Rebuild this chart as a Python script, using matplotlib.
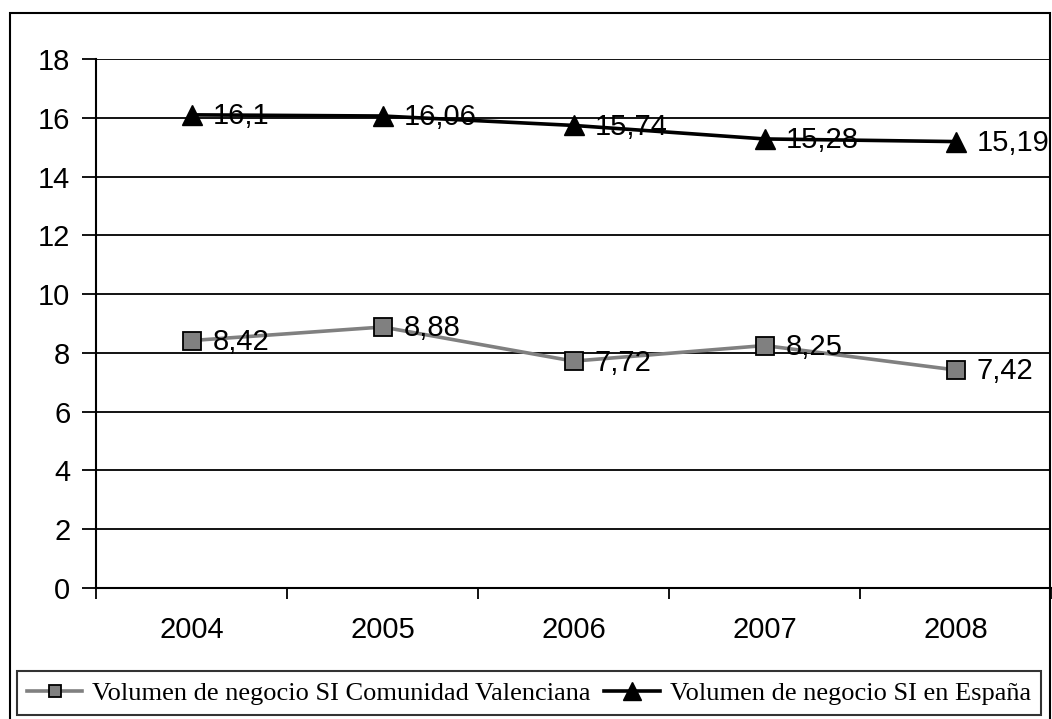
import matplotlib
matplotlib.use('Agg')
import matplotlib.pyplot as plt
from matplotlib.patches import Rectangle
from matplotlib.ticker import FixedLocator

# data
years = ['2004', '2005', '2006', '2007', '2008']
valencia = [8.42, 8.88, 7.72, 8.25, 7.42]
espana = [16.1, 16.06, 15.74, 15.28, 15.19]
series_names = ['Volumen de negocio SI Comunidad Valenciana',
                'Volumen de negocio SI en España']

W, H = 1052, 719
fig = plt.figure(figsize=(W / 100, H / 100), dpi=100)
ax = fig.add_axes([96 / W, 1 - 588 / H, 955 / W, 529 / H])

x = list(range(1, len(years) + 1))
l1, = ax.plot(x, valencia, color='#808080', lw=2.6, marker='s', ms=12.5,
              mfc='#808080', mec='black', mew=1.3, zorder=3)
l2, = ax.plot(x, espana, color='black', lw=2.6, marker='^', ms=15,
              mfc='black', mec='black', zorder=3)

def fmt(v):
    return ('%g' % v).replace('.', ',')

for ys in [valencia, espana]:
    for xi, yi in zip(x, ys):
        ax.annotate(fmt(yi), (xi, yi), xytext=(15, -1), textcoords='offset points',
                    ha='left', va='center', fontsize=21, family='Liberation Sans',
                    annotation_clip=False, clip_on=False, zorder=4)

ax.set_xlim(0.5, len(years) + 0.5)
ax.set_ylim(0, 18)
ax.set_yticks(range(0, 19, 2))
ax.yaxis.grid(True, color='black', lw=1.3)
ax.set_axisbelow(True)
ax.set_xticks(x)
ax.set_xticklabels(years)
ax.xaxis.set_minor_locator(FixedLocator([i + 0.5 for i in range(0, len(years) + 1)]))
ax.tick_params(axis='x', which='major', length=0, pad=20, labelsize=21)
ax.tick_params(axis='x', which='minor', length=8, width=1.3, direction='out')
ax.tick_params(axis='y', length=10, width=1.3, direction='out', labelsize=21, pad=8.5)
for lab in ax.get_xticklabels() + ax.get_yticklabels():
    lab.set_family('Liberation Sans')
for s in ['top', 'right']:
    ax.spines[s].set_visible(False)
for s in ['left', 'bottom']:
    ax.spines[s].set_linewidth(1.5)

# outer chart border
fig.patches.append(Rectangle((10 / W, -0.01), (1050 - 10) / W, 1 - 13 / H + 0.01,
                             transform=fig.transFigure, fill=False,
                             edgecolor='black', lw=1.5))

leg = fig.legend([l1, l2], series_names, loc='lower left', ncol=2,
                 bbox_to_anchor=(17 / W, 4 / H),
                 prop={'family': 'Liberation Serif', 'size': 19},
                 frameon=True, fancybox=False, handlelength=2.1,
                 handletextpad=0.38, columnspacing=0.5, borderaxespad=0,
                 borderpad=0.38)
leg.get_frame().set_edgecolor('black')
leg.get_frame().set_linewidth(1.5)
hs = leg.legend_handles
hs[0].set_markersize(9)
hs[1].set_markersize(13)

fig.savefig('out.png', dpi=100)
